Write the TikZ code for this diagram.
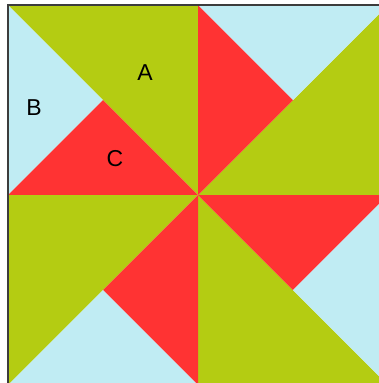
\documentclass[tikz,border=0pt]{standalone}
\usepackage{fontspec}
\setmainfont{Liberation Sans}
\definecolor{qgreen}{RGB}{180,204,18}
\definecolor{qred}{RGB}{255,51,51}
\definecolor{qblue}{RGB}{192,236,243}
\definecolor{qedge}{RGB}{60,60,60}
\tikzset{
  gpiece/.style={fill=qgreen},
  rpiece/.style={fill=qred},
  bpiece/.style={fill=qblue},
  lbl/.style={font=\fontsize{23}{23}\selectfont, text=black, inner sep=0pt}
}
\begin{document}
\begin{tikzpicture}[x=1pt,y=-1pt]
\useasboundingbox (0,0) rectangle (379,383);
\fill[white] (0,0) rectangle (379,383);
\begin{scope}
\clip (0,0) rectangle (379,383);
% corner coordinates
\coordinate (TL) at (8,5);
\coordinate (TM) at (198,5);
\coordinate (TR) at (388,5);
\coordinate (ML) at (8,195);
\coordinate (O) at (198,195);
\coordinate (MR) at (388,195);
\coordinate (BL) at (8,385);
\coordinate (BM) at (198,385);
\coordinate (BR) at (388,385);
\coordinate (p1) at (103,100);
\coordinate (p2) at (293,100);
\coordinate (p3) at (293,290);
\coordinate (p4) at (103,290);
% top-left quadrant
\fill[gpiece] (TL) -- (TM) -- (O) -- cycle;
\fill[bpiece] (TL) -- (p1) -- (ML) -- cycle;
\fill[rpiece] (ML) -- (p1) -- (O) -- cycle;
% top-right quadrant
\fill[gpiece] (O) -- (TR) -- (MR) -- cycle;
\fill[rpiece] (TM) -- (p2) -- (O) -- cycle;
\fill[bpiece] (TM) -- (TR) -- (p2) -- cycle;
% bottom-right quadrant
\fill[gpiece] (O) -- (BM) -- (BR) -- cycle;
\fill[rpiece] (O) -- (MR) -- (p3) -- cycle;
\fill[bpiece] (MR) -- (BR) -- (p3) -- cycle;
% bottom-left quadrant
\fill[gpiece] (ML) -- (O) -- (BL) -- cycle;
\fill[rpiece] (O) -- (BM) -- (p4) -- cycle;
\fill[bpiece] (BL) -- (BM) -- (p4) -- cycle;
% outer border
\draw[qedge, line width=1.2pt] (TL) rectangle (BR);
\end{scope}
\node[lbl] (A) at (145,73) {A};
\node[lbl] (B) at (34,108) {B};
\node[lbl] (C) at (115,159) {C};
\end{tikzpicture}
\end{document}
